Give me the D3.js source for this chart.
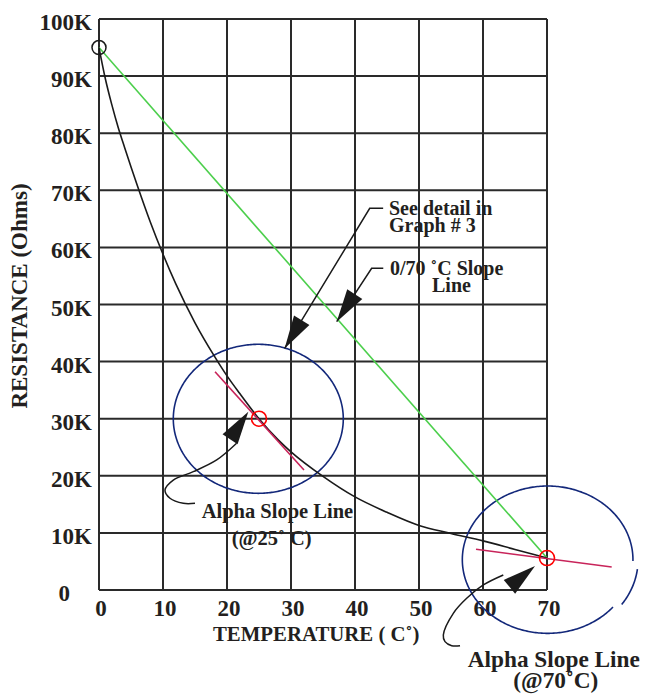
<!DOCTYPE html>
<html><head><meta charset="utf-8">
<script src="https://cdn.jsdelivr.net/npm/d3@7"></script>
<style>
html,body{margin:0;padding:0;background:#fff;}
svg text{font-family:"Liberation Serif","DejaVu Serif",serif;font-weight:bold;fill:#231f20;}
</style></head>
<body><svg id="c" width="645" height="694"></svg>
<script>
// ---- data ----
const xTicks = [0,10,20,30,40,50,60,70];
const yTicks = [0,10,20,30,40,50,60,70,80,90,100];
const yTickLabels = ["0","10K","20K","30K","40K","50K","60K","70K","80K","90K","100K"];
const temperature = [0,1,2,3,4,6,8,10,12,15,18,20,22,25,28,30,35,40,45,50,55,60,65,70];
const resistanceK = [95,89.5,85,81,77.5,70.8,64.5,58.8,53.6,46.8,41,37.5,34.4,30,26.3,24.2,19.9,16.3,13.6,11.3,9.9,8.6,7.1,5.6];
const chordPoints = [[0,95],[70,5.6]];
const refPoints = [[25,30],[70,5.6]];
const startPoint = [0,95];
const tangent25 = [[18.13,38.23],[32.03,21.02]];
const tangent70 = [[58.91,7.13],[80.11,4.03]];
const ellipse25 = {cx:24.89, cy:29.98, rx:13.28, ry:13.05};
const ellipse70 = {cx:70.1, cy:5.31, rx:13.33, ry:12.9};
// annotation arrows (data units): leader points, head tip, head from
const arrowDetail = {line:[[44.4,66.85],[42.3,66.85],[29.0,42.3]], tip:[29.0,42.3], from:[42.3,66.85], curved:false};
const arrowChord  = {line:[[44.42,56.34],[42.6,56.34],[37.14,46.99]], tip:[37.14,46.99], from:[42.6,56.34], curved:false};
const arrow25 = {line:[[21.5,25.69],[18.39,22.77],[14.73,20.72],[11.61,19.26],[10.31,17.51],[11.09,16.06],[13.17,15.18],[15,15.18]], tip:[23.33,31.23], from:[20.39,26.27], curved:true};
const arrow70 = {line:[[63.17,2.63],[60.05,0.88],[57.45,-1.45],[55.36,-4.08],[53.8,-7.88],[54.06,-9.05],[55.11,-9.75],[56.41,-9.75]], tip:[68.13,4.2], from:[64.11,0.53], curved:true};

// ---- layout ----
const svg = d3.select("#c");
const x = d3.scaleLinear().domain([0,70]).range([99,547]);
const y = d3.scaleLinear().domain([0,100]).range([590,19]);
const gridColor = "#2a2a2a";

// grid
const g = svg.append("g");
g.selectAll("line.v").data(xTicks).join("line")
  .attr("x1",d=>x(d)).attr("x2",d=>x(d)).attr("y1",y(0)).attr("y2",y(100))
  .attr("stroke",gridColor).attr("stroke-width",2);
g.selectAll("line.h").data(yTicks).join("line")
  .attr("y1",d=>y(d)).attr("y2",d=>y(d)).attr("x1",x(0)).attr("x2",x(70))
  .attr("stroke",gridColor).attr("stroke-width",2);

// tick labels
svg.selectAll("text.yt").data(yTicks).join("text")
  .attr("x",d=>d===0?70:92).attr("y",d=>y(d)+11)
  .attr("text-anchor","end").attr("font-size",23)
  .text((d,i)=>yTickLabels[i]);
svg.selectAll("text.xt").data(xTicks).join("text")
  .attr("x",d=>x(d)+2).attr("y",616)
  .attr("text-anchor","middle").attr("font-size",23)
  .text(d=>d);

// axis titles
svg.append("text").attr("x",213).attr("y",641).attr("font-size",20.8)
  .text("TEMPERATURE ( C˚)");
svg.append("text").attr("transform","translate(27,296) rotate(-90)")
  .attr("text-anchor","middle").attr("font-size",23)
  .text("RESISTANCE (Ohms)");

// ellipses
function ellipsePath(e, a0, a1, s){
  const pts = d3.range(a0, a1+0.001, 1).map(a=>{
    const t = a*Math.PI/180;
    return [x(e.cx)+ (x(e.cx+e.rx)-x(e.cx))*s*Math.cos(t), y(e.cy) + (y(e.cy-e.ry)-y(e.cy))*s*Math.sin(t)];
  });
  return d3.line()(pts);
}
const blue = "#13287a";
svg.append("path").attr("d",ellipsePath(ellipse25,0,360,1)).attr("fill","none").attr("stroke",blue).attr("stroke-width",1.6);
svg.append("path").attr("d",ellipsePath(ellipse70,40,360+1,1)).attr("fill","none").attr("stroke",blue).attr("stroke-width",1.6);
svg.append("path").attr("d",ellipsePath(ellipse70,7,35,1.06)).attr("fill","none").attr("stroke",blue).attr("stroke-width",1.6);

// chord line (green)
svg.append("path").attr("d",d3.line().x(d=>x(d[0])).y(d=>y(d[1]))(chordPoints))
  .attr("stroke","#4ccf4c").attr("stroke-width",1.6).attr("fill","none");

// curve
svg.append("path").datum(temperature.map((t,i)=>[t,resistanceK[i]]))
  .attr("d",d3.line().x(d=>x(d[0])).y(d=>y(d[1])).curve(d3.curveMonotoneX))
  .attr("stroke","#1a1a1a").attr("stroke-width",1.6).attr("fill","none");

// tangents
[tangent25,tangent70].forEach(t=>{
  svg.append("path").attr("d",d3.line().x(d=>x(d[0])).y(d=>y(d[1]))(t))
    .attr("stroke","#c8245a").attr("stroke-width",1.6).attr("fill","none");
});

// points
svg.append("circle").attr("cx",x(startPoint[0])).attr("cy",y(startPoint[1])).attr("r",7)
  .attr("fill","none").attr("stroke","#1a1a1a").attr("stroke-width",1.5);
svg.selectAll("circle.rp").data(refPoints).join("circle")
  .attr("cx",d=>x(d[0])).attr("cy",d=>y(d[1])).attr("r",7.5)
  .attr("fill","none").attr("stroke","#ff0000").attr("stroke-width",1.6);

// arrows
function drawArrow(a){
  const ln = d3.line().x(d=>x(d[0])).y(d=>y(d[1]));
  if(a.curved) ln.curve(d3.curveCatmullRom);
  svg.append("path").attr("d",ln(a.line)).attr("fill","none").attr("stroke","#1a1a1a").attr("stroke-width",1.5);
  const tx=x(a.tip[0]), ty=y(a.tip[1]), fx=x(a.from[0]), fy=y(a.from[1]);
  let dx=tx-fx, dy=ty-fy; const L=Math.hypot(dx,dy); dx/=L; dy/=L;
  const len=33, w=9;
  const bx=tx-dx*len, by=ty-dy*len;
  const pts=[[tx,ty],[bx-dy*w,by+dx*w],[bx+dy*w,by-dx*w]];
  svg.append("path").attr("d",d3.line()(pts)+"Z").attr("fill","#1a1a1a");
}
[arrowDetail,arrowChord,arrow25,arrow70].forEach(drawArrow);

// annotation texts
const notes = [
  {t:"See detail in", x:389, y:215, s:20},
  {t:"Graph # 3", x:389, y:232, s:20},
  {t:"0/70 ˚C Slope", x:390, y:275, s:20},
  {t:"Line", x:432, y:292, s:20},
  {t:"Alpha Slope Line", x:201.7, y:518, s:20.5},
  {t:"(@25˚ C)", x:231.7, y:545, s:20.5},
  {t:"Alpha Slope Line", x:467.7, y:666.7, s:23.3},
  {t:"(@70˚C)", x:513.3, y:688, s:23.3}
];
svg.selectAll("text.note").data(notes).join("text")
  .attr("x",d=>d.x).attr("y",d=>d.y).attr("font-size",d=>d.s).text(d=>d.t);
</script></body></html>
